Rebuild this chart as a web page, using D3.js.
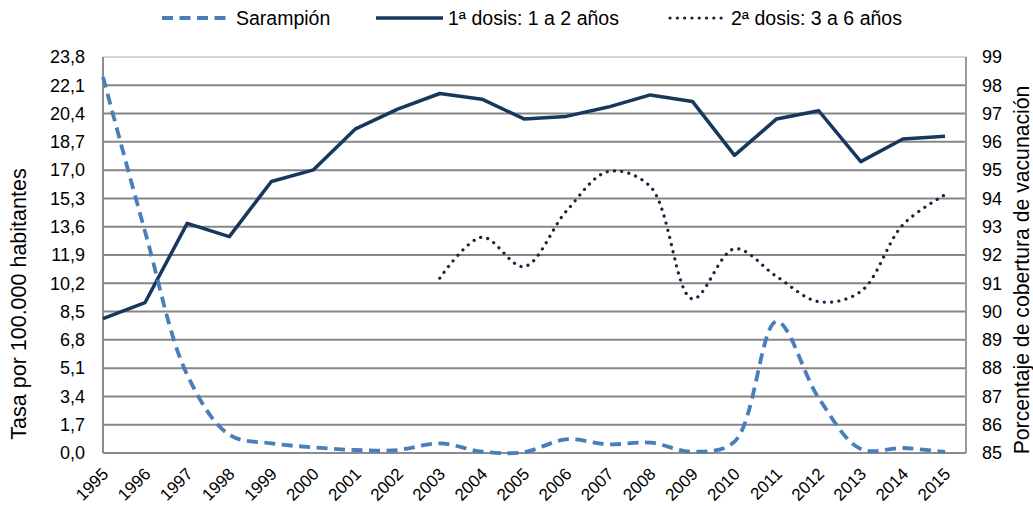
<!DOCTYPE html>
<html><head><meta charset="utf-8">
<script src="https://cdn.jsdelivr.net/npm/d3@7"></script>
<style>body{margin:0;background:#fff}svg{font-family:"Liberation Sans",Arial,sans-serif}</style>
</head><body><svg id="c" width="1033" height="506"></svg>
<script>
const years = [1995,1996,1997,1998,1999,2000,2001,2002,2003,2004,2005,2006,2007,2008,2009,2010,2011,2012,2013,2014,2015];
const sarampion = [22.6,13.3,4.7,1.1,0.58,0.34,0.18,0.18,0.58,0.08,0.05,0.82,0.52,0.62,0.08,0.68,7.9,3.3,0.24,0.3,0.06];
const dosis1 = [89.75,90.32,93.12,92.65,94.6,95.01,96.46,97.16,97.71,97.51,96.81,96.9,97.23,97.66,97.43,95.52,96.81,97.1,95.3,96.1,96.2];
const dosis2 = [null,null,null,null,null,null,null,null,91.18,92.63,91.59,93.54,94.95,94.42,90.45,92.22,91.24,90.35,90.71,93.07,94.13];
const leftTicks = [0,1.7,3.4,5.1,6.8,8.5,10.2,11.9,13.6,15.3,17.0,18.7,20.4,22.1,23.8];
const rightTicks = [85,86,87,88,89,90,91,92,93,94,95,96,97,98,99];
const seriesNames = ["Sarampión","1ª dosis: 1 a 2 años","2ª dosis: 3 a 6 años"];

const svg = d3.select("#c");
const L = 103, R = 966, T = 57, B = 453;
const x = d3.scaleLinear().domain([1995,2015]).range([L, 945]);
const yL = d3.scaleLinear().domain([0,23.8]).range([B,T]);
const yR = d3.scaleLinear().domain([85,99]).range([B,T]);
const fmt = v => d3.format(".1f")(v).replace(".", ",");
const FS = 18;

// gridlines
svg.append("g").selectAll("line").data(leftTicks.slice(1,-1)).join("line")
  .attr("x1",L).attr("x2",R).attr("y1",d=>yL(d)).attr("y2",d=>yL(d))
  .attr("stroke","#868686").attr("stroke-width",2);
// plot border
svg.append("line").attr("x1",L).attr("x2",R).attr("y1",T).attr("y2",T).attr("stroke","#c8c8c8").attr("stroke-width",1.5);
svg.append("line").attr("x1",L).attr("x2",L).attr("y1",T).attr("y2",B).attr("stroke","#8c8c8c").attr("stroke-width",2);
svg.append("line").attr("x1",R).attr("x2",R).attr("y1",T).attr("y2",B).attr("stroke","#9a9a9a").attr("stroke-width",2);
svg.append("line").attr("x1",L).attr("x2",R).attr("y1",B).attr("y2",B).attr("stroke","#8c8c8c").attr("stroke-width",2);

// left axis labels
const axL = svg.append("g").attr("transform",`translate(${L},0)`)
  .call(d3.axisLeft(yL).tickValues(leftTicks).tickFormat(fmt).tickSize(0).tickPadding(18));
axL.select(".domain").remove();
axL.selectAll("text").attr("font-size",FS).attr("fill","#000").attr("font-family","Liberation Sans, Arial, sans-serif");
const axR = svg.append("g").attr("transform",`translate(${R},0)`)
  .call(d3.axisRight(yR).tickValues(rightTicks).tickFormat(d3.format("d")).tickSize(0).tickPadding(16));
axR.select(".domain").remove();
axR.selectAll("text").attr("font-size",FS).attr("fill","#000").attr("font-family","Liberation Sans, Arial, sans-serif");

// x axis labels
const axX = svg.append("g").attr("transform",`translate(0,${B})`)
  .call(d3.axisBottom(x).tickValues(years).tickFormat(d3.format("d")).tickSize(0));
axX.select(".domain").remove();
axX.selectAll("text").attr("font-size",17).attr("fill","#000").attr("font-family","Liberation Sans, Arial, sans-serif")
  .attr("text-anchor","end").attr("dy",null).attr("y",0)
  .attr("transform","translate(6,22) rotate(-45)");

// axis titles
svg.append("text").attr("transform",`translate(26,304) rotate(-90)`).attr("text-anchor","middle")
  .attr("font-size",21.5).text("Tasa por 100.000 habitantes");
svg.append("text").attr("transform",`translate(1029,270) rotate(-90)`).attr("text-anchor","middle")
  .attr("font-size",21.2).text("Porcentaje de cobertura de vacunación");

// lines
const idx = d3.range(years.length);
const lineS = d3.line().x(i=>x(years[i])).y(i=>yL(sarampion[i])).curve(d3.curveCatmullRom.alpha(0.5));
const line1 = d3.line().x(i=>x(years[i])).y(i=>yR(dosis1[i]));
const line2 = d3.line().defined(i=>dosis2[i]!=null).x(i=>x(years[i])).y(i=>yR(dosis2[i])).curve(d3.curveCatmullRom.alpha(0.5));

svg.append("path").attr("d",line1(idx)).attr("fill","none").attr("stroke","#17375e").attr("stroke-width",3.5).attr("stroke-linejoin","round");
svg.append("path").attr("d",line2(idx)).attr("fill","none").attr("stroke","#17263f").attr("stroke-width",3.2).attr("stroke-linecap","round").attr("stroke-dasharray","0.1,7.2");
svg.append("path").attr("d",lineS(idx)).attr("fill","none").attr("stroke","#4a7ebb").attr("stroke-width",3.8).attr("stroke-dasharray","11,6.5");

// legend
const lg = svg.append("g").attr("font-size",19.5);
const legend = [
  {x0:162,x1:230,tx:236,stroke:"#4a7ebb",w:3.8,dash:"11,6.5",cap:"butt"},
  {x0:376,x1:443,tx:448,stroke:"#17375e",w:3.5,dash:null,cap:"butt"},
  {x0:670,x1:727,tx:731,stroke:"#17263f",w:3.2,dash:"0.1,7.2",cap:"round"}
];
legend.forEach((d,i)=>{
  lg.append("line").attr("x1",d.x0).attr("x2",d.x1).attr("y1",18).attr("y2",18)
    .attr("stroke",d.stroke).attr("stroke-width",d.w).attr("stroke-dasharray",d.dash).attr("stroke-linecap",d.cap);
  lg.append("text").attr("x",d.tx).attr("y",25).text(seriesNames[i]);
});
</script></body></html>
